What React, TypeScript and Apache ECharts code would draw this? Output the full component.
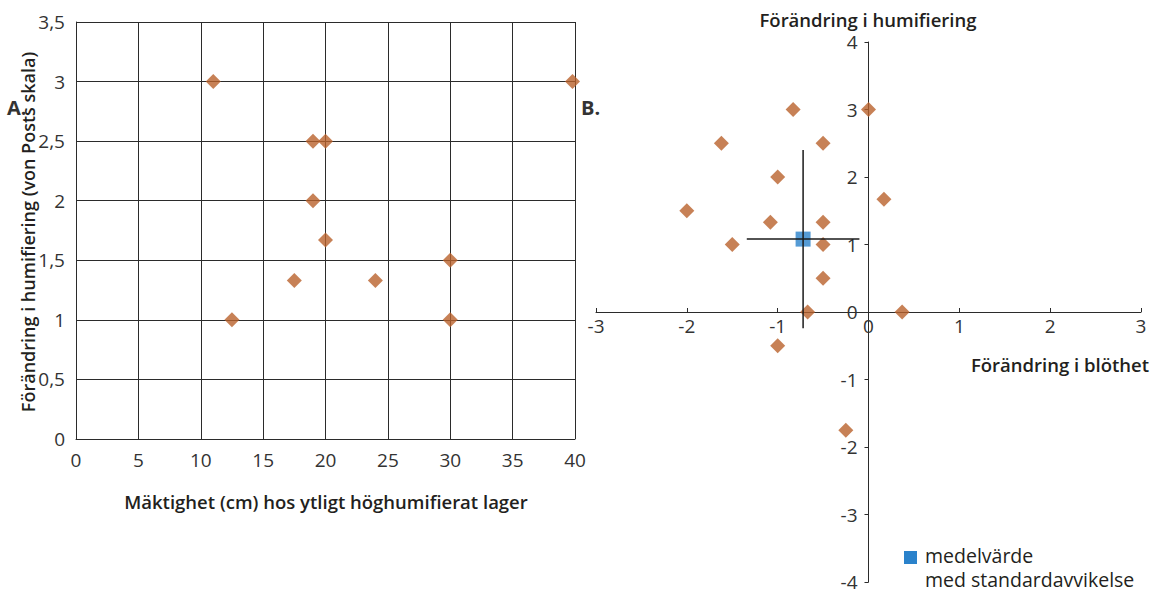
import { useEffect, useRef } from "react";
import * as echarts from "echarts";

// Panel A: thickness of surface highly humified layer vs change in humification
const leftX = [11, 39.8, 19, 20, 19, 20, 17.5, 24, 30, 12.5, 30];
const leftY = [3, 3, 2.5, 2.5, 2, 1.67, 1.33, 1.33, 1.5, 1, 1];

// Panel B: change in wetness vs change in humification
const rightX = [-0.83, 0, -1.62, -0.5, -1, -2, 0.17, -1.08, -0.5, -1.5, -0.5, -0.5, -0.67, 0.37, -1, -0.25];
const rightY = [3, 3, 2.5, 2.5, 2, 1.5, 1.67, 1.33, 1.33, 1, 1, 0.5, 0, 0, -0.5, -1.75];

// Mean with standard deviation
const meanXY = [-0.72, 1.08];
const sdXY = [0.62, 1.32];

const legendLines = ["medelvärde", "med standardavvikelse"];

const FONT = "'Open Sans', 'Noto Sans', sans-serif";
const TXT = "#231f20";
const LINE = "#2b2b2b";
const ORANGE = "#b9622c";
const BLUE = "#2a82cb";

// right panel geometry (layout only)
const G2 = { left: 596, top: 42, width: 545, height: 540 };

export default function App() {
  const ref = useRef<HTMLDivElement>(null);

  useEffect(() => {
    const chart = echarts.init(ref.current!, null, { renderer: "svg" });
    const leftData = leftX.map((x, i) => [x, leftY[i]]);
    const rightData = rightX.map((x, i) => [x, rightY[i]]);
    const [mx, my] = meanXY;
    const [sx, sy] = sdXY;

    const labelStyle = { fontSize: 19, color: "#333333", fontFamily: FONT };

    chart.setOption({
      animation: false,
      backgroundColor: "#ffffff",
      grid: [
        { left: 76, top: 22, width: 499, height: 417, outerBoundsMode: "none" },
        { ...G2, outerBoundsMode: "none" },
      ],
      xAxis: [
        {
          gridIndex: 0,
          type: "value",
          min: 0,
          max: 40,
          interval: 5,
          axisLine: { onZero: false, lineStyle: { color: LINE, width: 1 } },
          axisTick: { show: false },
          axisLabel: { ...labelStyle, margin: 11 },
          splitLine: { show: true, lineStyle: { color: LINE, width: 1 } },
        },
        {
          gridIndex: 1,
          type: "value",
          min: -3,
          max: 3,
          interval: 1,
          position: "bottom",
          offset: -G2.height / 2,
          axisLine: { onZero: false, lineStyle: { color: LINE, width: 1 } },
          axisTick: { show: true, inside: true, length: 4, lineStyle: { color: LINE } },
          axisLabel: { ...labelStyle, margin: 4 },
          splitLine: { show: false },
        },
      ],
      yAxis: [
        {
          gridIndex: 0,
          type: "value",
          min: 0,
          max: 3.5,
          interval: 0.5,
          axisLine: { show: true, onZero: false, lineStyle: { color: LINE, width: 1 } },
          axisTick: { show: false },
          axisLabel: {
            ...labelStyle,
            margin: 11,
            formatter: (v: number) => String(v).replace(".", ","),
          },
          splitLine: { show: true, lineStyle: { color: LINE, width: 1 } },
        },
        {
          gridIndex: 1,
          type: "value",
          min: -4,
          max: 4,
          interval: 1,
          position: "left",
          offset: -G2.width / 2,
          axisLine: { show: true, onZero: false, lineStyle: { color: LINE, width: 1 } },
          axisTick: { show: true, length: 4, lineStyle: { color: LINE } },
          axisLabel: { ...labelStyle, margin: 11, lineHeight: 16 },
          splitLine: { show: false },
        },
      ],
      series: [
        {
          type: "scatter",
          xAxisIndex: 0,
          yAxisIndex: 0,
          symbol: "diamond",
          symbolSize: 15,
          itemStyle: { color: ORANGE },
          data: leftData,
        },
        {
          type: "line",
          xAxisIndex: 1,
          yAxisIndex: 1,
          symbol: "none",
          lineStyle: { color: "#1a1a1a", width: 1.5 },
          data: [
            [mx - sx, my],
            [mx + sx, my],
          ],
        },
        {
          type: "line",
          xAxisIndex: 1,
          yAxisIndex: 1,
          symbol: "none",
          lineStyle: { color: "#1a1a1a", width: 1.5 },
          data: [
            [mx, my - sy],
            [mx, my + sy],
          ],
        },
        {
          type: "scatter",
          xAxisIndex: 1,
          yAxisIndex: 1,
          symbol: "diamond",
          symbolSize: 15,
          itemStyle: { color: ORANGE },
          data: rightData,
        },
        {
          type: "scatter",
          xAxisIndex: 1,
          yAxisIndex: 1,
          symbol: "rect",
          symbolSize: 15,
          itemStyle: { color: BLUE },
          data: [[mx, my]],
        },
      ],
      graphic: [
        {
          type: "text",
          x: 28,
          y: 232,
          rotation: Math.PI / 2,
          style: {
            text: "Förändring i humifiering (von Posts skala)",
            font: `600 18px ${FONT}`,
            fill: TXT,
            align: "center",
            verticalAlign: "middle",
          },
        },
        {
          type: "text",
          x: 7,
          y: 107,
          style: {
            text: "A.",
            font: `bold 20px ${FONT}`,
            fill: "#333",
            align: "left",
            verticalAlign: "middle",
          },
        },
        {
          type: "text",
          x: 326,
          y: 501,
          style: {
            text: "Mäktighet (cm) hos ytligt höghumifierat lager",
            font: `600 18.5px ${FONT}`,
            fill: TXT,
            align: "center",
            verticalAlign: "middle",
          },
        },
        {
          type: "text",
          x: 581,
          y: 107,
          style: {
            text: "B.",
            font: `bold 20px ${FONT}`,
            fill: "#333",
            align: "left",
            verticalAlign: "middle",
          },
        },
        {
          type: "text",
          x: 868,
          y: 19,
          style: {
            text: "Förändring i humifiering",
            font: `600 18.5px ${FONT}`,
            fill: TXT,
            align: "center",
            verticalAlign: "middle",
          },
        },
        {
          type: "text",
          x: 1149,
          y: 364,
          style: {
            text: "Förändring i blöthet",
            font: `600 18.5px ${FONT}`,
            fill: TXT,
            align: "right",
            verticalAlign: "middle",
          },
        },
        {
          type: "rect",
          shape: { x: 904, y: 551, width: 13, height: 13 },
          style: { fill: BLUE },
        },
        {
          type: "text",
          x: 925,
          y: 543,
          style: {
            text: legendLines.join("\n"),
            font: `19.5px ${FONT}`,
            lineHeight: 24,
            fill: TXT,
            align: "left",
            verticalAlign: "top",
          },
        },
      ],
    });
    return () => chart.dispose();
  }, []);

  return (
    <div
      ref={ref}
      style={{ position: "fixed", left: 0, top: 0, width: 1158, height: 591 }}
    />
  );
}
